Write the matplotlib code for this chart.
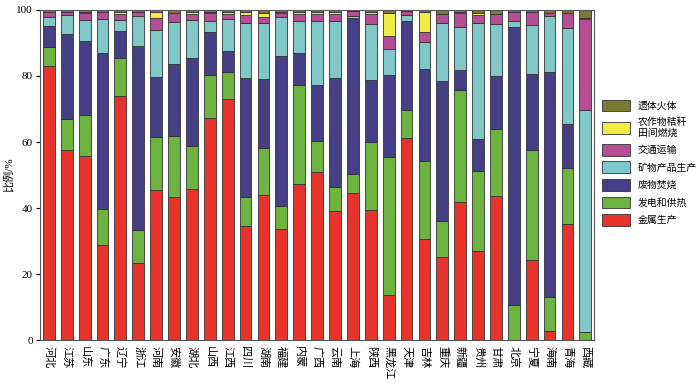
import matplotlib
matplotlib.use('Agg')
from matplotlib import pyplot as plt
import numpy as np

plt.rcParams['font.family'] = ['Liberation Serif', 'Noto Sans CJK SC']

provinces = ['河北', '江苏', '山东', '广东', '辽宁', '浙江', '河南', '安徽', '湖北', '山西', '江西',
             '四川', '湖南', '福建', '内蒙', '广西', '云南', '上海', '陕西', '黑龙江', '天津',
             '吉林', '重庆', '新疆', '贵州', '甘肃', '北京', '宁夏', '海南', '青海', '西藏']

# share of each source, % (bottom to top)
metal = [83.1, 57.6, 55.8, 28.7, 73.8, 23.5, 45.6, 43.3, 45.7, 67.2, 72.9,
         34.6, 43.9, 33.8, 47.3, 50.8, 39.2, 44.6, 39.3, 13.8, 61.2,
         30.6, 25.1, 41.9, 27.1, 43.5, 0.0, 24.2, 2.8, 35.2, 0.0]
power = [5.6, 9.5, 12.5, 11.1, 11.7, 10.0, 15.8, 18.6, 13.2, 13.0, 8.3,
         8.8, 14.4, 6.9, 29.9, 9.4, 7.2, 5.8, 20.8, 41.6, 8.4,
         23.5, 11.1, 33.9, 24.1, 20.5, 10.6, 33.3, 10.3, 16.9, 2.6]
waste = [6.5, 25.7, 22.2, 47.1, 8.1, 55.6, 18.2, 21.7, 26.4, 13.0, 6.4,
         35.9, 20.7, 45.4, 9.9, 17.1, 32.9, 47.3, 18.7, 24.9, 27.1,
         28.1, 42.3, 6.0, 9.8, 16.0, 84.1, 23.1, 68.2, 13.5, 0.0]
mineral = [2.8, 5.6, 6.5, 10.4, 3.4, 9.0, 14.3, 12.7, 11.8, 3.6, 9.6,
           16.7, 16.9, 11.7, 9.5, 19.3, 17.5, 0.4, 16.8, 7.8, 1.8,
           8.2, 17.5, 12.9, 34.9, 15.8, 2.1, 14.8, 16.9, 29.0, 67.1]
traffic = [1.4, 1.0, 2.0, 2.0, 1.9, 1.3, 3.7, 2.7, 1.6, 2.4, 1.7,
           2.4, 2.0, 1.4, 2.3, 2.3, 1.9, 1.7, 3.2, 3.9, 1.2,
           3.0, 2.8, 4.3, 2.6, 3.0, 2.7, 4.0, 1.0, 4.5, 27.5]
straw = [0.0, 0.1, 0.5, 0.1, 0.5, 0.0, 1.7, 0.2, 0.7, 0.2, 0.5,
         0.9, 1.3, 0.1, 0.5, 0.4, 0.6, 0.0, 0.6, 7.2, 0.0,
         6.0, 0.0, 0.4, 0.6, 0.0, 0.0, 0.0, 0.0, 0.0, 0.3]
cremation = [0.6, 0.5, 0.5, 0.6, 0.6, 0.6, 0.7, 0.8, 0.6, 0.6, 0.6,
             0.7, 0.8, 0.7, 0.6, 0.7, 0.7, 0.2, 0.6, 0.8, 0.3,
             0.6, 1.2, 0.6, 0.9, 1.2, 0.5, 0.6, 0.8, 0.9, 2.5]

series = [
    ('金属生产', metal, '#e8322c'),
    ('发电和供热', power, '#6db33f'),
    ('废物焚烧', waste, '#463f86'),
    ('矿物产品生产', mineral, '#80c8c8'),
    ('交通运输', traffic, '#b54e95'),
    ('农作物秸秆\n田间燃烧', straw, '#f2ea45'),
    ('遗体火体', cremation, '#7c7a32'),
]

fig = plt.figure(figsize=(7, 3.83), dpi=100)
ax = fig.add_axes([0.057, 0.112, 0.792, 0.862])

x = np.arange(len(provinces))
bottom = np.zeros(len(provinces))
handles = []
for name, vals, col in series:
    b = ax.bar(x, vals, 0.66, bottom=bottom, color=col, edgecolor='#333333',
               linewidth=0.6, label=name)
    handles.append(b)
    bottom += np.array(vals)

ax.set_xlim(-0.5, len(provinces) - 0.5)
ax.set_ylim(0, 100)
ax.set_yticks([0, 20, 40, 60, 80, 100])
ax.set_xticks(x)
ax.set_xticklabels(provinces, rotation=270, fontsize=8)
ax.tick_params(axis='x', length=0, pad=4)
ax.tick_params(axis='y', length=3, labelsize=8, pad=2)
ax.set_ylabel('比例/%', fontsize=8, labelpad=2)
for s in ax.spines.values():
    s.set_color('#555555')

fig.legend(handles[::-1], [s[0] for s in series][::-1], loc='upper left',
           bbox_to_anchor=(0.852, 0.755), frameon=False, fontsize=7.1,
           handlelength=2.8, handleheight=1.45, labelspacing=0.6,
           handletextpad=0.8, borderaxespad=0.2)

fig.savefig('out.png', dpi=100)
